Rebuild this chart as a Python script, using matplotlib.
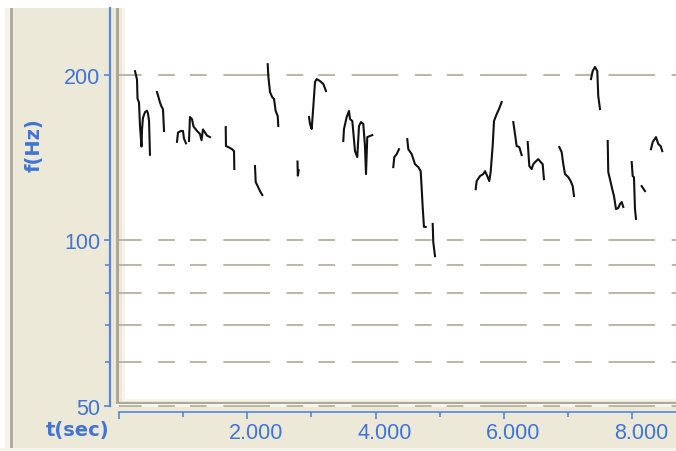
import matplotlib.pyplot as plt
from matplotlib.patches import Rectangle
from matplotlib.transforms import ScaledTranslation
from matplotlib.ticker import NullFormatter

plt.rcParams['lines.scale_dashes'] = False
plt.rcParams['font.family'] = ['Liberation Sans', 'DejaVu Sans']

# pitch contour pieces: time (s) and f0 (Hz)
a_t = [0.251, 0.282, 0.290, 0.313, 0.329, 0.352, 0.360, 0.375, 0.407, 0.438, 0.453, 0.469, 0.484]
a_f = [203, 196, 181, 178, 161, 148, 159, 167, 171, 172, 170, 165, 143]
b_t = [0.593, 0.617, 0.640, 0.664, 0.687, 0.703]
b_f = [186, 182, 178, 175, 173, 158]
c_t = [0.905, 0.921, 0.967, 0.998, 1.014, 1.045]
c_f = [151, 157, 158, 158, 153, 150]
d_t = [1.092, 1.107, 1.139, 1.162, 1.217, 1.263, 1.287, 1.310, 1.341, 1.372, 1.419]
d_f = [151.5, 167.5, 166, 161, 158, 156, 152, 159, 157, 155, 154]
e_t = [1.664, 1.668, 1.704, 1.762, 1.793, 1.798]
e_f = [160.6, 148.3, 147.7, 146.4, 145.2, 134.7]
f_t = [2.120, 2.131, 2.162, 2.198, 2.234]
f_f = [136.4, 127.5, 125.4, 122.8, 120.8]
g_t = [2.318, 2.327, 2.354, 2.389, 2.416, 2.442, 2.474, 2.483]
g_f = [209, 199, 186, 182, 180.7, 171.8, 168.2, 161.3]
h_t = [2.782, 2.787, 2.800]
h_f = [139, 131, 134]
i_t = [2.961, 2.977, 3.003, 3.028, 3.055, 3.081, 3.132, 3.184, 3.226]
i_f = [167.5, 162.7, 159.3, 174.7, 194, 196.4, 194.8, 192.4, 186.8]
j_t = [3.495, 3.506, 3.548, 3.584, 3.600, 3.636, 3.678, 3.713, 3.740, 3.771, 3.807, 3.833, 3.849, 3.869, 3.911, 3.947]
j_f = [151.5, 159.3, 167.5, 171.8, 166.1, 164.7, 145.2, 141.6, 161.3, 164, 162.7, 148.3, 131.9, 154, 154.7, 155.3]
k_t = [4.274, 4.290, 4.327, 4.363]
k_f = [135.8, 141.6, 143.4, 146.4]
l_t = [4.492, 4.508, 4.561, 4.612, 4.664, 4.701, 4.717, 4.732, 4.752, 4.779]
l_f = [152.7, 146.4, 143.4, 137.5, 135.8, 133.5, 123.8, 114.9, 105.7, 105.7]
l2_t = [4.888, 4.897, 4.924]
l2_f = [107, 99.2, 93.5]
m_t = [5.558, 5.573, 5.625, 5.676, 5.703, 5.738, 5.769, 5.791, 5.822, 5.843, 5.885, 5.921, 5.963]
m_f = [123.8, 128.1, 130.8, 131.9, 133.5, 130.8, 128.1, 133, 148.3, 164.7, 169.6, 173.2, 178.4]
n_t = [6.143, 6.170, 6.196, 6.237, 6.274]
n_f = [164, 156, 148.3, 147.7, 142.8]
o_t = [6.368, 6.393, 6.430, 6.455, 6.497, 6.533, 6.570, 6.601, 6.621]
o_f = [150.8, 136.4, 134.7, 137.5, 139.2, 140.4, 138.7, 137.5, 129.1]
p_t = [6.860, 6.897, 6.922, 6.949, 7.000, 7.037, 7.069, 7.089]
p_f = [147.7, 144.6, 137.5, 131.9, 130.2, 128.1, 125.4, 120.3]
q_t = [7.354, 7.380, 7.416, 7.452, 7.467, 7.494]
q_f = [196.4, 203.1, 206.6, 203.1, 182.9, 173.2]
r_t = [7.614, 7.623, 7.660, 7.685, 7.712, 7.743, 7.779, 7.805, 7.832, 7.857]
r_f = [151.5, 133, 127.5, 123.8, 120.3, 113.9, 114.4, 116.3, 117.3, 114.9]
s_t = [7.988, 8.003, 8.023, 8.039, 8.055]
s_f = [138.7, 130.8, 130.2, 113.9, 109.3]
t_t = [8.143, 8.195]
t_f = [125.4, 122.8]
u_t = [8.288, 8.315, 8.366, 8.402, 8.439, 8.464]
u_f = [146.4, 150.8, 154, 149.6, 148.3, 145.2]

contours = [(a_t, a_f), (b_t, b_f), (c_t, c_f), (d_t, d_f), (e_t, e_f), (f_t, f_f),
            (g_t, g_f), (h_t, h_f), (i_t, i_f), (j_t, j_f), (k_t, k_f), (l_t, l_f),
            (l2_t, l2_f), (m_t, m_f), (n_t, n_f), (o_t, o_f), (p_t, p_f), (q_t, q_f),
            (r_t, r_f), (s_t, s_f), (t_t, t_f), (u_t, u_f)]

x_major = [0, 2, 4, 6, 8]
x_labels = ['', '2.000', '4.000', '6.000', '8.000']
x_minor = [1, 3, 5, 7]
y_major = [50, 100, 200]
y_labels = ['50', '100', '200']
y_minor = [60, 70, 80, 90]

blue = '#4174d4'
axis_blue = '#5686da'
grid_col = '#bcb8a6'
beige = '#ECE9D8'

W, H = 676, 452
fig = plt.figure(figsize=(W / 100, H / 100), dpi=100)
fig.patch.set_facecolor(beige)


def box(x0, y0, x1, y1, color):
    # pixel box (y from top) drawn under the axes
    fig.add_artist(Rectangle((x0 / W, 1 - y1 / H), (x1 - x0) / W, (y1 - y0) / H,
                             transform=fig.transFigure, facecolor=color,
                             edgecolor='none', zorder=-1))


# window chrome
box(0, 0, W, 9, 'white')
box(0, 0, 5, H, 'white')
box(5, 9, 10, H, '#f5f3ea')
box(10, 9, 13, H, '#b0ac9c')
box(0, 449, W, H, '#f5f3ea')
# plot frame
box(116, 405, W, 408, '#f6f5ee')
box(116, 9, 119, 405, '#aca899')
box(116, 403, W, 405, '#aca899')
box(122, 9, 125, 402, '#f6f4e8')
box(122, 400, W, 402, '#f6f4e8')
box(125, 9, W, 400, 'white')

ax = fig.add_axes([118.9 / W, 1 - 409 / H, (W - 118.9) / W, 409 / H])
ax.set_facecolor('none')
ax.set_yscale('log')
ax.set_xlim(0, 8.678)
ax.set_ylim(49.48, 274.7)

for t, f in contours:
    ax.plot(t, f, color='#111111', lw=1.5)

for side in ['top', 'right']:
    ax.spines[side].set_visible(False)
ax.spines['left'].set_position(('outward', 6.4))
ax.spines['left'].set_color(axis_blue)
ax.spines['left'].set_linewidth(1.6)
ax.spines['left'].set_bounds(50, 264.5)
ax.spines['bottom'].set_position(('outward', 3.1))
ax.spines['bottom'].set_color(axis_blue)
ax.spines['bottom'].set_linewidth(1.2)
ax.spines['bottom'].set_bounds(0, 8.678)

ax.set_xticks(x_major, x_labels)
ax.set_xticks(x_minor, minor=True)
ax.set_yticks(y_major, y_labels)
ax.set_yticks(y_minor, minor=True)
ax.yaxis.set_minor_formatter(NullFormatter())

ax.tick_params(which='both', direction='out', color=axis_blue, width=1.2)
ax.tick_params(axis='x', which='major', length=5, pad=2, labelsize=15.5, labelcolor=blue)
ax.tick_params(axis='x', which='minor', length=3.6)
ax.tick_params(axis='y', which='major', length=4.3, pad=2.5, labelsize=15.5, labelcolor=blue)
ax.tick_params(axis='y', which='minor', length=3.4)

shift = ScaledTranslation(8.7 / 100, 0, fig.dpi_scale_trans)
for lab in ax.get_xticklabels():
    lab.set_transform(lab.get_transform() + shift)

ax.grid(axis='y', which='both', color=grid_col, lw=1.44,
        linestyle=(17.28, (33.55, 11.95, 12.02, 10.87, 12.02, 12.02)))

fig.text(77.5 / W, 1 - 431 / H, 't(sec)', ha='center', va='center', fontsize=14,
         weight='bold', color=blue, family='DejaVu Sans')
fig.text(34 / W, 1 - 145 / H, 'f(Hz)', ha='center', va='center', rotation=90,
         fontsize=14, weight='bold', color=blue, family='DejaVu Sans')

fig.savefig('out.png', dpi=100, facecolor=fig.get_facecolor())
